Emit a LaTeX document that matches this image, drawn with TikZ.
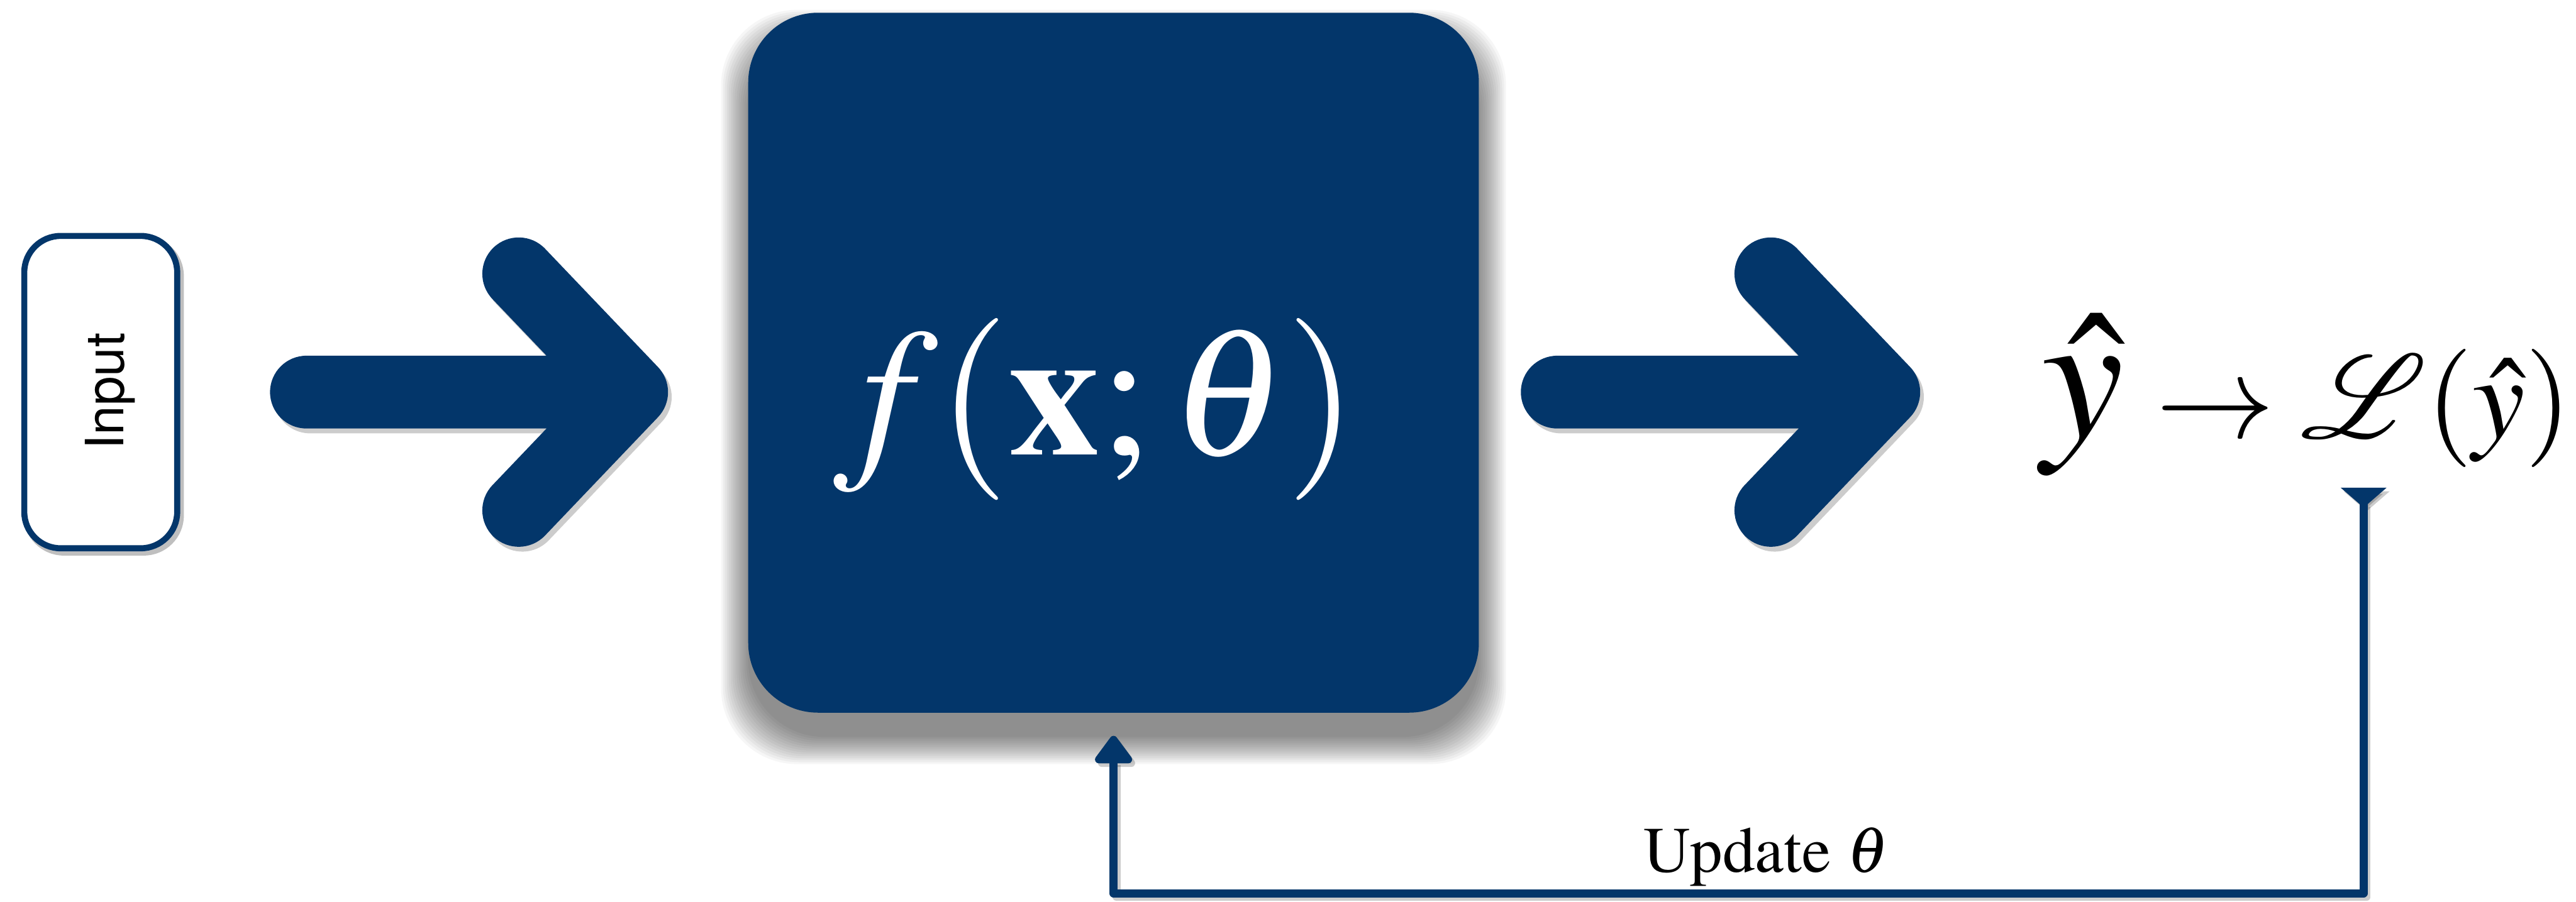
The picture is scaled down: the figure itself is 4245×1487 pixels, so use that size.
\RequirePackage{fix-cm}
\documentclass[tikz,border=0pt]{standalone}
\usepackage[T1]{fontenc}
\usepackage{mathptmx}
\usepackage{mathrsfs}
\DeclareFontFamily{U}{rsfs}{\skewchar\font127 }
\DeclareFontShape{U}{rsfs}{m}{n}{<-6> rsfs5 <6-8> rsfs7 <8-> rsfs10}{}
\newcommand\labelsans{\fontencoding{T1}\fontfamily{phv}\selectfont}
\newcommand\labelserif{\fontencoding{T1}\fontfamily{ptm}\selectfont}
\usetikzlibrary{arrows.meta}
\definecolor{navy}{HTML}{03366A}
\begin{document}
\begin{tikzpicture}[x=1pt,y=-1pt,
  bigarrow/.style={draw=navy, line width=120pt, line cap=round, line join=round},
  arrowshade/.style={draw=black, line width=#1, line cap=round, line join=round, opacity=0.2, transform canvas={shift={(6pt,-8pt)}}},
  feedback/.style={draw=navy, line width=13pt, line join=round},
  fbshade/.style={draw=black, line width=13pt, line join=round, opacity=0.2, transform canvas={shift={(5pt,-6pt)}}},
  inputbox/.style={draw=navy, line width=10pt, fill=white, rounded corners=60pt, minimum width=252pt, minimum height=515pt, inner sep=0pt},
  modelbox/.style={fill=navy, rounded corners=115pt, minimum width=1204pt, minimum height=1154pt, inner sep=0pt},
  mathlabel/.style={anchor=base, inner sep=0pt}
]
\useasboundingbox (0,0) rectangle (4245,1487);
\fill[white] (0,0) rectangle (4245,1487);

% soft shadow of the model box
\foreach \i in {0,...,14}{
  \fill[black, opacity=0.035, rounded corners=125pt] ({1233-3.2*\i},{61-3.2*\i}) rectangle ({2437+3.2*\i},{1215+3.2*\i});
}
% shadow of the input box frame
\draw[black, opacity=0.25, line width=12pt, rounded corners=60pt, transform canvas={shift={(5pt,-6pt)}}] (40,389) rectangle (292,904);

\node[inputbox] (inp) at (166,646.5) {};
\node[rotate=90, anchor=base, inner sep=0pt, font=\labelsans\fontsize{87}{100}\selectfont] (inptext) at (204,645) {Input};

\node[modelbox] (model) at (1835,598) {};
\node[mathlabel, text=white] (ftext) at (1805,750) {\fontsize{300}{340}\selectfont$f(\mathbf{x};\theta)$};

% arrow 1
\path (inp.east) ++(208,0) coordinate (a1s);
\path (model.west |- inp.east) ++(-192,0) coordinate (a1t);
\draw[arrowshade=120pt] (a1s) -- (a1t) ++(-186,-195) -- (a1t) -- ++(-186,195);
\draw[bigarrow] (a1s) -- (a1t) ++(-186,-195) -- (a1t) -- ++(-186,195);

% arrow 2
\path (model.east |- inp.east) ++(129,0) coordinate (a2s);
\path (a2s) ++(538,0) coordinate (a2t);
\draw[arrowshade=120pt] (a2s) -- (a2t) ++(-186,-195) -- (a2t) -- ++(-186,195);
\draw[bigarrow] (a2s) -- (a2t) ++(-186,-195) -- (a2t) -- ++(-186,195);

\node[mathlabel] (yhat) at (3432,722) {\fontsize{305}{330}\selectfont$\hat{y}$};
\node[mathlabel] (loss) at (3895,722) {\fontsize{195}{220}\selectfont$\rightarrow\mathscr{L}(\hat{y})$};

% feedback loop
\coordinate (fbtail) at (3895,804);
\draw[fbshade, {Triangle[reversed,length=33pt,width=74pt]}-{Triangle[length=50pt,width=70pt,round]}] (fbtail) -- ++(0,669) -| ([yshift=-38pt]model.south);
\draw[feedback, {Triangle[reversed,length=33pt,width=74pt]}-{Triangle[length=50pt,width=70pt,round]}] (fbtail) -- ++(0,669) -| ([yshift=-38pt]model.south);

\node[mathlabel, font=\labelserif\fontsize{107}{120}\selectfont] (upd) at (2910,1438) {Update $\theta$};
\end{tikzpicture}
\end{document}
